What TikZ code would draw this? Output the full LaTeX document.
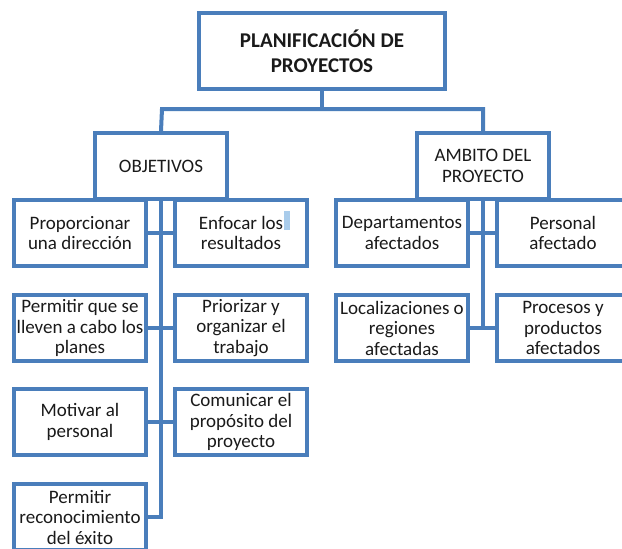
\documentclass[tikz,border=0pt]{standalone}
\usepackage{fontspec}
\setmainfont{Carlito}
\definecolor{boxblue}{HTML}{4A7EBB}
\definecolor{txt}{HTML}{1A1A1A}
\definecolor{cursor}{HTML}{A9CCEB}
\begin{document}
\begin{tikzpicture}[x=1pt,y=-1pt,
  box/.style={draw=boxblue, line width=4pt, fill=white, align=center, text=txt,
    minimum width=132pt, minimum height=66pt, inner sep=1pt,
    font=\fontsize{19}{20.5}\selectfont},
  titlebox/.style={box, minimum width=246pt, minimum height=76pt,
    font=\fontsize{21}{25}\selectfont\bfseries},
  link/.style={draw=boxblue, line width=4pt}]
\path[use as bounding box, clip] (0,0) rectangle (622,549);
\node[titlebox] (top) at (322,51) {PLANIFICACIÓN DE\\PROYECTOS};
\node[box] (obj) at (161,166) {OBJETIVOS};
\node[box] (amb) at (483,166) {AMBITO DEL\\PROYECTO};
\coordinate (bl) at (162,109);
\coordinate (br) at (483,109);
% left column
\node[box] (l1) at (80,233) {Proporcionar\\una dirección};
\node[box] (r1) at (241,233) {Enfocar los\\resultados};
\node[box] (l2) at (80,328) {Permitir que se\\lleven a cabo los\\planes};
\node[box] (r2) at (241,328) {Priorizar y\\organizar el\\trabajo};
\node[box] (l3) at (80,422) {Motivar al\\personal};
\node[box] (r3) at (241,422) {Comunicar el\\propósito del\\proyecto};
\node[box] (l4) at (80,517) {Permitir\\reconocimiento\\del éxito};
% right side
\node[box] (d1) at (402,233) {Departamentos\\afectados};
\node[box] (p1) at (563,233) {Personal\\afectado};
\node[box] (d2) at (402,328) {Localizaciones o\\regiones\\afectadas};
\node[box] (p2) at (563,328) {Procesos y\\productos\\afectados};
% cursor mark
\fill[cursor] (284,211) rectangle (290,230);
% connectors
\draw[link] (top.south) -- (top.south |- bl);
\draw[link] (obj.north) -- (bl) -- (br) -- (amb.north);
\draw[link] (obj.south) -- (obj.south |- l4.east) -- (l4.east);
\draw[link] (l1.east) -- (r1.west);
\draw[link] (l2.east) -- (r2.west);
\draw[link] (l3.east) -- (r3.west);
\draw[link] (amb.south) -- (amb.south |- d2.east);
\draw[link] (d1.east) -- (p1.west);
\draw[link] (d2.east) -- (p2.west);
\end{tikzpicture}
\end{document}
